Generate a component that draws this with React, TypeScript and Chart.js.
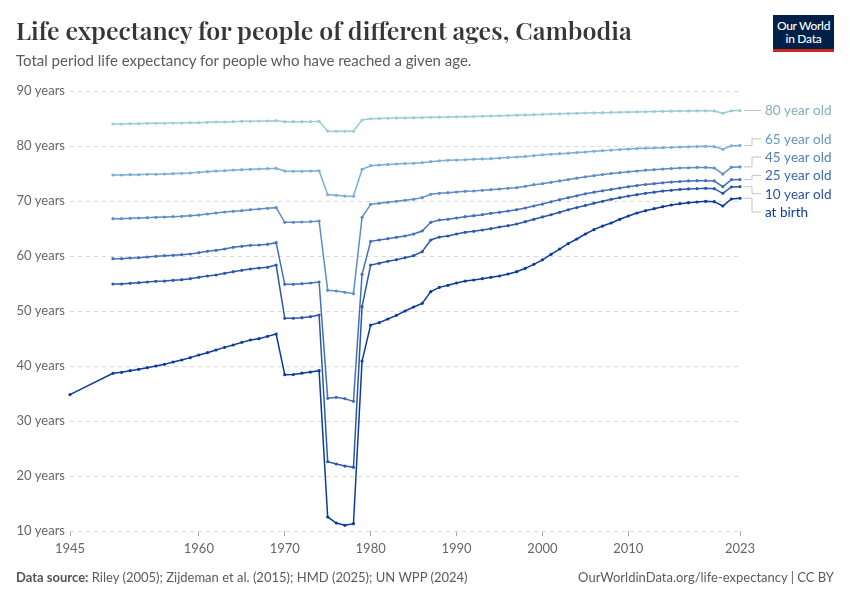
import React, { useEffect, useRef } from "react";
import { Chart, registerables } from "chart.js";

Chart.register(...registerables);

// ---------- DATA ----------
const years = [
  1950, 1951, 1952, 1953, 1954, 1955, 1956, 1957, 1958, 1959,
  1960, 1961, 1962, 1963, 1964, 1965, 1966, 1967, 1968, 1969,
  1970, 1971, 1972, 1973, 1974, 1975, 1976, 1977, 1978, 1979,
  1980, 1981, 1982, 1983, 1984, 1985, 1986, 1987, 1988, 1989,
  1990, 1991, 1992, 1993, 1994, 1995, 1996, 1997, 1998, 1999,
  2000, 2001, 2002, 2003, 2004, 2005, 2006, 2007, 2008, 2009,
  2010, 2011, 2012, 2013, 2014, 2015, 2016, 2017, 2018, 2019,
  2020, 2021, 2022, 2023,
];
const birthYears = [1945, ...years];

const atBirth = [
  34.8,
  38.67, 38.85, 39.15, 39.39, 39.7, 40.0, 40.3, 40.73, 41.09, 41.52,
  42.0, 42.42, 42.91, 43.39, 43.82, 44.3, 44.73, 44.97, 45.39, 45.82,
  38.42, 38.45, 38.7, 38.9, 39.15, 12.55, 11.45, 11.03, 11.33, 40.9,
  47.45, 47.88, 48.55, 49.21, 50.0, 50.73, 51.39, 53.52, 54.3, 54.67,
  55.09, 55.45, 55.64, 55.88, 56.12, 56.36, 56.73, 57.15, 57.76, 58.48,
  59.3, 60.3, 61.27, 62.24, 63.09, 64.0, 64.79, 65.45, 66.0, 66.67,
  67.27, 67.82, 68.24, 68.6, 68.97, 69.27, 69.52, 69.7, 69.82, 69.94,
  69.88, 69.09, 70.36, 70.5,
];

const age10 = [
  54.91, 54.91, 55.03, 55.15, 55.27, 55.39, 55.45, 55.58, 55.7, 55.88,
  56.12, 56.36, 56.55, 56.85, 57.15, 57.39, 57.64, 57.82, 57.94, 58.36,
  48.67, 48.67, 48.79, 48.97, 49.27, 22.6, 22.18, 21.8, 21.58, 50.79,
  58.36, 58.67, 59.03, 59.33, 59.7, 60.06, 60.79, 62.91, 63.45, 63.64,
  64.0, 64.3, 64.48, 64.73, 64.97, 65.27, 65.52, 65.82, 66.24, 66.67,
  67.1, 67.5, 67.95, 68.4, 68.8, 69.2, 69.6, 69.95, 70.3, 70.6,
  70.9, 71.15, 71.4, 71.6, 71.8, 71.95, 72.1, 72.2, 72.25, 72.3,
  72.25, 71.4, 72.55, 72.6,
];

const age25 = [
  59.52, 59.52, 59.64, 59.7, 59.82, 59.94, 60.06, 60.12, 60.24, 60.36,
  60.6, 60.85, 61.03, 61.27, 61.58, 61.76, 61.94, 62.0, 62.12, 62.42,
  54.85, 54.85, 54.97, 55.09, 55.27, 34.12, 34.3, 34.06, 33.57, 56.67,
  62.67, 62.91, 63.15, 63.39, 63.64, 64.0, 64.55, 66.12, 66.55, 66.67,
  66.91, 67.15, 67.33, 67.52, 67.76, 67.94, 68.18, 68.42, 68.73, 69.09,
  69.45, 69.85, 70.25, 70.6, 70.95, 71.3, 71.6, 71.85, 72.1, 72.35,
  72.6, 72.8, 73.0, 73.15, 73.3, 73.45, 73.55, 73.65, 73.7, 73.7,
  73.65, 72.6, 73.88, 73.9,
];

const age45 = [
  66.79, 66.79, 66.85, 66.91, 66.97, 67.03, 67.09, 67.15, 67.21, 67.33,
  67.45, 67.64, 67.82, 68.0, 68.12, 68.24, 68.42, 68.55, 68.67, 68.79,
  66.12, 66.12, 66.18, 66.24, 66.36, 53.76, 53.64, 53.4, 53.15, 67.03,
  69.39, 69.58, 69.76, 69.94, 70.12, 70.3, 70.61, 71.21, 71.39, 71.52,
  71.64, 71.76, 71.82, 71.94, 72.06, 72.18, 72.3, 72.42, 72.67, 72.97,
  73.15, 73.4, 73.65, 73.9, 74.15, 74.4, 74.6, 74.8, 75.0, 75.15,
  75.3, 75.45, 75.6, 75.7, 75.8, 75.9, 76.0, 76.05, 76.1, 76.1,
  76.0, 74.9, 76.15, 76.2,
];

const age65 = [
  74.73, 74.73, 74.79, 74.79, 74.85, 74.85, 74.91, 74.97, 75.03, 75.09,
  75.21, 75.33, 75.45, 75.52, 75.64, 75.7, 75.76, 75.82, 75.88, 75.94,
  75.45, 75.4, 75.4, 75.45, 75.5, 71.15, 71.03, 70.9, 70.85, 75.76,
  76.42, 76.55, 76.65, 76.73, 76.8, 76.85, 76.97, 77.15, 77.3, 77.4,
  77.45, 77.5, 77.6, 77.65, 77.7, 77.8, 77.9, 78.0, 78.1, 78.25,
  78.4, 78.5, 78.6, 78.7, 78.8, 78.9, 79.05, 79.15, 79.25, 79.35,
  79.45, 79.55, 79.6, 79.65, 79.7, 79.75, 79.8, 79.85, 79.9, 79.95,
  79.9, 79.4, 80.05, 80.1,
];

const age80 = [
  84.0, 84.0, 84.06, 84.06, 84.12, 84.12, 84.12, 84.18, 84.18, 84.24,
  84.24, 84.3, 84.36, 84.36, 84.42, 84.48, 84.48, 84.55, 84.55, 84.61,
  84.42, 84.42, 84.42, 84.42, 84.48, 82.73, 82.67, 82.67, 82.67, 84.73,
  84.95, 85.0, 85.05, 85.1, 85.12, 85.15, 85.18, 85.21, 85.24, 85.27,
  85.3, 85.33, 85.36, 85.4, 85.45, 85.5, 85.55, 85.6, 85.65, 85.7,
  85.75, 85.8, 85.85, 85.9, 85.95, 86.0, 86.03, 86.06, 86.1, 86.13,
  86.16, 86.2, 86.23, 86.26, 86.3, 86.33, 86.36, 86.38, 86.4, 86.4,
  86.38, 85.95, 86.4, 86.45,
];

const seriesNames = ["80 year old", "65 year old", "45 year old", "25 year old", "10 year old", "at birth"];
const lineColors = ["#9ccbd6", "#7aaed2", "#5d8ec8", "#4470b8", "#2c58a9", "#0b3d9c"];
const labelColors = ["#86adb8", "#6797be", "#5381bc", "#3c68b0", "#2952a2", "#0a3a98"];

const xTickValues = [1945, 1960, 1970, 1980, 1990, 2000, 2010, 2023];
const yTickValues = [10, 20, 30, 40, 50, 60, 70, 80, 90];

const FONT = "Lato, 'Noto Sans', sans-serif";

function toPoints(xs: number[], ys: number[]) {
  return xs.map((x, i) => ({ x, y: ys[i] }));
}

const dashedGrid = {
  id: "dashedGrid",
  beforeDatasetsDraw(chart: any) {
    const ctx = chart.ctx as CanvasRenderingContext2D;
    const { left, right } = chart.chartArea;
    const yScale = chart.scales.y;
    ctx.save();
    ctx.strokeStyle = "#d9d9d9";
    ctx.lineWidth = 1;
    ctx.setLineDash([4, 4]);
    yTickValues.forEach((v) => {
      const y = Math.round(yScale.getPixelForValue(v)) + 0.5;
      ctx.beginPath();
      ctx.moveTo(left, y);
      ctx.lineTo(right, y);
      ctx.stroke();
    });
    ctx.restore();
  },
};

const endLabels = {
  id: "endLabels",
  afterDatasetsDraw(chart: any) {
    const ctx = chart.ctx as CanvasRenderingContext2D;
    const items = chart.data.datasets.map((ds: any, i: number) => {
      const meta = chart.getDatasetMeta(i);
      const pt = meta.data[meta.data.length - 1];
      return { x: pt.x, y: pt.y, ly: pt.y, label: ds.label as string, color: labelColors[i] };
    });
    const sorted = [...items].sort((a: any, b: any) => a.y - b.y);
    const gap = 18.3;
    let groups: any[] = sorted.map((it: any) => ({ items: [it], center: it.y }));
    let changed = true;
    while (changed) {
      changed = false;
      for (let i = 0; i < groups.length - 1; i++) {
        const g1 = groups[i];
        const g2 = groups[i + 1];
        const b1 = g1.center + ((g1.items.length - 1) * gap) / 2;
        const t2 = g2.center - ((g2.items.length - 1) * gap) / 2;
        if (t2 - b1 < gap) {
          const its = [...g1.items, ...g2.items];
          const center = its.reduce((s: number, it: any) => s + it.y, 0) / its.length;
          groups.splice(i, 2, { items: its, center });
          changed = true;
          break;
        }
      }
    }
    groups.forEach((g) =>
      g.items.forEach((it: any, k: number) => {
        it.ly = g.center + (k - (g.items.length - 1) / 2) * gap;
      })
    );
    ctx.save();
    ctx.font = `13.5px ${FONT}`;
    ctx.textBaseline = "middle";
    ctx.textAlign = "left";
    items.forEach((it: any) => {
      const x0 = it.x + 4;
      const xe = it.x + 12;
      const x1 = it.x + 21;
      ctx.strokeStyle = "#c4c4c4";
      ctx.lineWidth = 1;
      ctx.beginPath();
      if (Math.abs(it.ly - it.y) < 0.5) {
        ctx.moveTo(x0, it.y);
        ctx.lineTo(x1, it.y);
      } else {
        ctx.moveTo(x0, it.y);
        ctx.lineTo(xe, it.y);
        ctx.lineTo(xe, it.ly);
        ctx.lineTo(x1, it.ly);
      }
      ctx.stroke();
      ctx.fillStyle = it.color;
      ctx.fillText(it.label, it.x + 25, it.ly + 0.5);
    });
    ctx.restore();
  },
};

function LifeChart() {
  const ref = useRef<HTMLCanvasElement | null>(null);
  useEffect(() => {
    if (!ref.current) return;
    const seriesValues = [age80, age65, age45, age25, age10, atBirth];
    const datasets = seriesValues.map((vals, i) => ({
      label: seriesNames[i],
      data: toPoints(i === 5 ? birthYears : years, vals),
      borderColor: lineColors[i],
      backgroundColor: lineColors[i],
      pointBackgroundColor: lineColors[i],
      pointBorderColor: lineColors[i],
      borderWidth: 1.5,
      pointRadius: 1.6,
      pointBorderWidth: 0,
      tension: 0,
      clip: false as any,
    }));
    const chart = new Chart(ref.current, {
      type: "line",
      data: { datasets },
      options: {
        animation: false,
        responsive: false,
        devicePixelRatio: 1,
        layout: { padding: { left: 0, right: 110, top: 91, bottom: 39 } },
        plugins: { legend: { display: false }, tooltip: { enabled: false } },
        scales: {
          x: {
            type: "linear",
            min: 1945,
            max: 2023,
            afterBuildTicks: (scale: any) => {
              scale.ticks = xTickValues.map((v) => ({ value: v }));
            },
            afterFit: (scale: any) => {
              scale.height = 30;
            },
            ticks: {
              autoSkip: false,
              maxRotation: 0,
              padding: 5,
              color: "#666",
              font: { family: FONT, size: 13 },
              callback: (v: any) => String(v),
            },
            grid: {
              drawOnChartArea: false,
              drawTicks: true,
              tickLength: 5,
              color: "#aaa",
            },
            border: { display: false },
          },
          y: {
            type: "linear",
            min: 10,
            max: 90,
            afterBuildTicks: (scale: any) => {
              scale.ticks = yTickValues.map((v) => ({ value: v }));
            },
            afterFit: (scale: any) => {
              scale.width = 70;
            },
            ticks: {
              padding: 5,
              color: "#666",
              font: { family: FONT, size: 13 },
              callback: (v: any) => `${v} years`,
            },
            grid: { display: false, drawTicks: false },
            border: { display: false },
          },
        },
      },
      plugins: [dashedGrid, endLabels],
    });
    return () => chart.destroy();
  }, []);
  return (
    <canvas
      ref={ref}
      width={850}
      height={600}
      style={{ position: "absolute", left: 0, top: 0, width: 850, height: 600 }}
    />
  );
}

export default function App() {
  return (
    <div
      style={{
        position: "absolute",
        left: 0,
        top: 0,
        width: 850,
        height: 600,
        background: "#fff",
        overflow: "hidden",
        fontFamily: FONT,
      }}
    >
      <LifeChart />
      <div
        style={{
          position: "absolute",
          left: 16,
          top: 15,
          fontFamily: "'Playfair Display', 'Liberation Serif', 'Times New Roman', serif",
          fontWeight: 600,
          fontSize: 25,
          lineHeight: "30px",
          color: "#363636",
          whiteSpace: "nowrap",
        }}
      >
        Life expectancy for people of different ages, Cambodia
      </div>
      <div
        style={{
          position: "absolute",
          left: 16,
          top: 51,
          fontSize: 15,
          lineHeight: "18px",
          color: "#5b5b5b",
          whiteSpace: "nowrap",
        }}
      >
        Total period life expectancy for people who have reached a given age.
      </div>
      <div
        style={{
          position: "absolute",
          left: 773,
          top: 15,
          width: 61,
          height: 37,
          background: "#002147",
          borderBottom: "3px solid #ce261e",
          boxSizing: "border-box",
          color: "#fff",
          textAlign: "center",
          fontSize: 12,
          lineHeight: "13px",
          paddingTop: 4,
          letterSpacing: -0.3,
          fontWeight: 500,
        }}
      >
        Our World
        <br />
        in Data
      </div>
      <div
        style={{
          position: "absolute",
          left: 16,
          top: 569,
          fontSize: 13,
          lineHeight: "16px",
          color: "#5b5b5b",
          whiteSpace: "nowrap",
        }}
      >
        <span style={{ fontWeight: 700, color: "#555" }}>Data source:</span> Riley (2005); Zijdeman et al. (2015); HMD
        (2025); UN WPP (2024)
      </div>
      <div
        style={{
          position: "absolute",
          right: 16,
          top: 569,
          fontSize: 13,
          lineHeight: "16px",
          color: "#5b5b5b",
          whiteSpace: "nowrap",
        }}
      >
        OurWorldinData.org/life-expectancy | CC BY
      </div>
    </div>
  );
}
